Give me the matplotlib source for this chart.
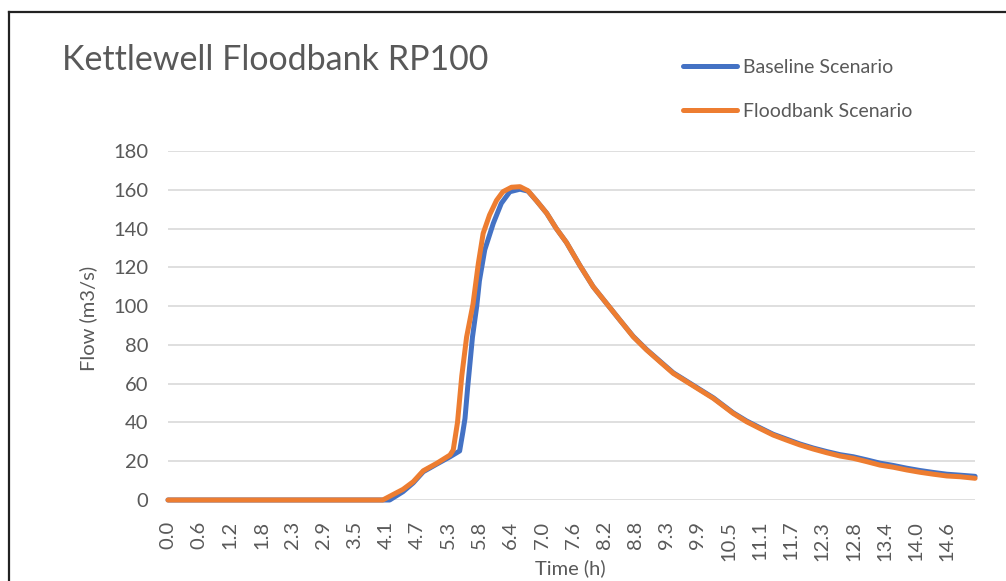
import matplotlib
matplotlib.use("Agg")
import matplotlib.pyplot as plt
from matplotlib.lines import Line2D

# ---------------- data ----------------
title = "Kettlewell Floodbank RP100"
series_names = ["Baseline Scenario", "Floodbank Scenario"]

# time step of the model output: 3.5 minutes (category axis labelled every 10 steps)
step_h = 3.5 / 60.0
n_steps = 260
tick_labels = ["0.0", "0.6", "1.2", "1.8", "2.3", "2.9", "3.5", "4.1", "4.7", "5.3",
               "5.8", "6.4", "7.0", "7.6", "8.2", "8.8", "9.3", "9.9", "10.5", "11.1",
               "11.7", "12.3", "12.8", "13.4", "14.0", "14.6"]

baseline_t = [0.0, 4.15, 4.40, 4.59, 4.78, 5.03, 5.28, 5.46, 5.52, 5.56, 5.61, 5.70,
              5.78, 5.83, 5.88, 5.93, 6.09, 6.24, 6.40, 6.59, 6.74, 6.90, 7.09, 7.27,
              7.46, 7.71, 7.96, 8.21, 8.46, 8.71, 8.96, 9.21, 9.46, 9.71, 9.96, 10.21,
              10.58, 10.83, 11.08, 11.33, 11.58, 11.83, 12.08, 12.33, 12.58, 12.83,
              13.08, 13.33, 13.58, 13.83, 14.08, 14.33, 14.58, 14.83, 15.11]
baseline_q = [0, 0, 4.3, 8.8, 14.6, 18.5, 22.3, 25.3, 35, 42, 58, 84,
              100, 113, 121, 129, 142.7, 153, 159, 160.3, 159.3, 154.3, 147.9, 140,
              132.8, 121, 110, 101.4, 92.8, 84.4, 77.6, 71.6, 65.6, 61.3, 57.0, 52.7,
              45.0, 40.8, 37.3, 33.9, 31.4, 28.9, 26.8, 25.0, 23.4, 22.3,
              20.7, 19.0, 17.8, 16.4, 15.2, 14.2, 13.3, 12.8, 12.2]

floodbank_t = [0.0, 4.02, 4.40, 4.59, 4.78, 5.03, 5.28, 5.34, 5.42, 5.46, 5.50, 5.59,
               5.71, 5.81, 5.90, 6.02, 6.15, 6.27, 6.43, 6.59, 6.74, 6.90, 7.09, 7.27,
               7.46, 7.71, 7.96, 8.21, 8.46, 8.71, 8.96, 9.21, 9.46, 9.71, 9.96, 10.21,
               10.58, 10.83, 11.08, 11.33, 11.58, 11.83, 12.08, 12.33, 12.58, 12.83,
               13.08, 13.33, 13.58, 13.83, 14.08, 14.33, 14.58, 14.83, 15.11]
floodbank_q = [0, 0, 5.5, 9.4, 15.1, 18.9, 23.2, 25.8, 40, 52, 64, 84,
               101, 122, 137.5, 147, 154.5, 159, 161.3, 161.6, 159.5, 154.3, 147.9, 140,
               132.8, 121, 110, 101.4, 92.8, 84.2, 77.4, 71.3, 65.3, 61.0, 56.7, 52.4,
               44.7, 40.4, 36.9, 33.5, 30.9, 28.4, 26.3, 24.4, 22.7, 21.5,
               19.8, 18.0, 16.9, 15.5, 14.3, 13.3, 12.4, 12.0, 11.2]

y_ticks = [0, 20, 40, 60, 80, 100, 120, 140, 160, 180]

# ---------------- styling ----------------
plt.rcParams['font.family'] = ['Lato', 'DejaVu Sans']
TXT = "#595959"
BLUE = "#4472C4"
ORANGE = "#ED7D31"
GRID = "#D9D9D9"

W, H = 1006, 581
fig = plt.figure(figsize=(W / 100, H / 100), dpi=100)
fig.patch.set_facecolor("white")

left, right, top, bottom = 168, 975, 151, 500
ax = fig.add_axes([left / W, 1 - bottom / H, (right - left) / W, (bottom - top) / H])

lw = 3.6
ax.plot(baseline_t, baseline_q, color=BLUE, lw=lw, solid_capstyle="round",
        solid_joinstyle="round", label=series_names[0], zorder=3)
ax.plot(floodbank_t, floodbank_q, color=ORANGE, lw=lw, solid_capstyle="round",
        solid_joinstyle="round", label=series_names[1], zorder=4)

ax.set_xlim(0, (n_steps - 1) * step_h)
ax.set_ylim(0, 180)
ax.set_yticks(y_ticks)
ax.set_yticklabels([str(v) for v in y_ticks])
ax.set_xticks([i * 10 * step_h for i in range(len(tick_labels))])
ax.set_xticklabels(tick_labels, rotation=90, va="top", ha="center")

for s in ax.spines.values():
    s.set_visible(False)
ax.grid(axis="y", color=GRID, lw=1.2, zorder=0)
ax.set_axisbelow(True)
ax.tick_params(axis="both", length=0, colors=TXT, labelsize=14.5)
ax.tick_params(axis="y", pad=14)
ax.tick_params(axis="x", pad=15)
for ln in ax.lines:
    ln.set_clip_on(False)

fig.text(88 / W, 1 - 318 / H, "Flow (m3/s)", rotation=90, ha="center", va="center",
         color=TXT, fontsize=14.5)
fig.text(570 / W, 1 - 568 / H, "Time (h)", ha="center", va="center",
         color=TXT, fontsize=14.5)
fig.text(62 / W, 1 - 60 / H, title, ha="left", va="center", color=TXT, fontsize=24.5)

leg = fig.legend(loc="upper left", bbox_to_anchor=(683 / W, 1 - 59 / H), frameon=False,
                 fontsize=14, handlelength=2.78, handletextpad=0.31, labelspacing=1.4,
                 borderpad=0, borderaxespad=0)
for t in leg.get_texts():
    t.set_color(TXT)

# chart border (top and left edges visible in the crop)
fig.add_artist(Line2D([9 / W, 9 / W], [0, 1 - 12 / H], color="#222222", lw=1.6))
fig.add_artist(Line2D([9 / W, 1], [1 - 12 / H, 1 - 12 / H], color="#222222", lw=1.6))

fig.savefig("out.png", dpi=100, facecolor="white")
